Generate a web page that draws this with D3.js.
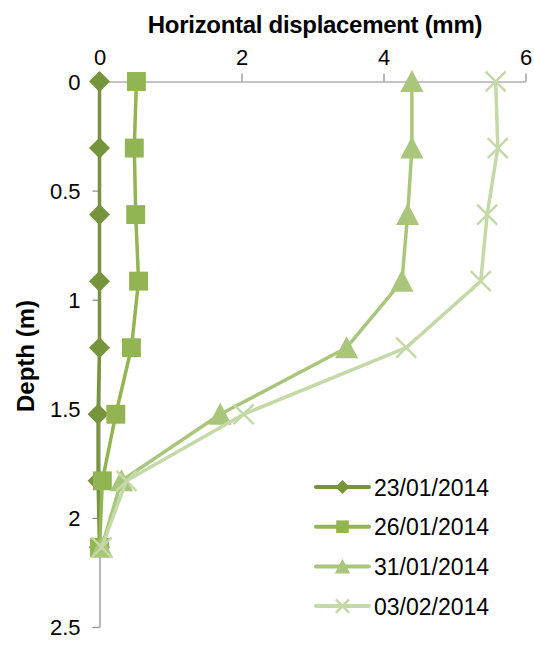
<!DOCTYPE html>
<html>
<head>
<meta charset="utf-8">
<script src="https://cdn.jsdelivr.net/npm/d3@7"></script>
<style>
  body { margin: 0; background: #fff; }
  text { font-family: "Liberation Sans", Arial, sans-serif; fill: #000; }
</style>
</head>
<body>
<div id="chart"></div>
<script>
var w = 534;
var h = 646;

// depth of each reading (m)
var depths = [0, 0.305, 0.61, 0.915, 1.22, 1.525, 1.83, 2.135];
var dates = ["23/01/2014", "26/01/2014", "31/01/2014", "03/02/2014"];
// horizontal displacement (mm) at each depth
var d230114 = [0, 0, 0, 0, 0, -0.02, -0.02, 0];
var d260114 = [0.52, 0.49, 0.51, 0.55, 0.45, 0.23, 0.04, 0];
var d310114 = [4.4, 4.4, 4.34, 4.26, 3.48, 1.7, 0.31, 0.03];
var d030214 = [5.58, 5.61, 5.46, 5.37, 4.32, 2.03, 0.38, 0.03];
var xTicks = [0, 2, 4, 6];
var yTicks = [0, 0.5, 1, 1.5, 2, 2.5];

var colors = ["#77933c", "#92b453", "#a9c67c", "#c5d8a7"];
var shapes = ["diamond", "square", "triangle", "cross"];
var values = [d230114, d260114, d310114, d030214];

var x = d3.scaleLinear().domain([0, 6]).range([99.5, 525.5]);
var y = d3.scaleLinear().domain([0, 2.5]).range([81.5, 627]);
var fmt = d3.format("~g");

var svg = d3.select("#chart").append("svg")
  .attr("width", w)
  .attr("height", h);

// axes
var xAxis = svg.append("g")
  .attr("transform", "translate(0," + y(0) + ")")
  .call(d3.axisTop(x).tickValues(xTicks).tickFormat(fmt).tickSize(8).tickSizeOuter(0).tickPadding(4));
var yAxis = svg.append("g")
  .attr("transform", "translate(" + x(0) + ",0)")
  .call(d3.axisLeft(y).tickValues(yTicks).tickFormat(fmt).tickSize(7).tickSizeOuter(0).tickPadding(12));

[xAxis, yAxis].forEach(function(a) {
  a.select(".domain").attr("stroke", "#8a8a8a").attr("stroke-width", 1.2);
  a.selectAll(".tick line").attr("stroke", "#8a8a8a").attr("stroke-width", 1.2);
  a.selectAll(".tick text")
    .attr("font-size", 22)
    .attr("font-family", "Liberation Sans, Arial, sans-serif")
    .attr("fill", "#000");
});
xAxis.selectAll(".tick text").attr("dy", "0em").attr("y", -17);
yAxis.selectAll(".tick text").attr("dy", "0.36em");

// titles
svg.append("text")
  .attr("x", 315)
  .attr("y", 33)
  .attr("text-anchor", "middle")
  .attr("font-size", 24)
  .attr("font-weight", "bold")
  .attr("letter-spacing", -0.3)
  .text("Horizontal displacement (mm)");

svg.append("text")
  .attr("transform", "translate(34,356) rotate(-90)")
  .attr("text-anchor", "middle")
  .attr("font-size", 24)
  .attr("font-weight", "bold")
  .text("Depth (m)");

function marker(sel, shape, color, s) {
  if (shape === "diamond") {
    sel.append("path").attr("d", "M0," + (-s) + "L" + s + ",0L0," + s + "L" + (-s) + ",0Z").attr("fill", color);
  } else if (shape === "square") {
    var q = s * 0.9;
    sel.append("rect").attr("x", -q).attr("y", -q).attr("width", 2 * q).attr("height", 2 * q).attr("fill", color);
  } else if (shape === "triangle") {
    sel.append("path").attr("d", "M0," + (-s * 1.1) + "L" + (s * 1.1) + "," + (s * 1.0) + "L" + (-s * 1.1) + "," + (s * 1.0) + "Z").attr("fill", color);
  } else {
    var c = s * 0.95;
    sel.append("path").attr("d", "M" + (-c) + "," + (-c) + "L" + c + "," + c + "M" + (-c) + "," + c + "L" + c + "," + (-c))
      .attr("stroke", color).attr("stroke-width", 2.5).attr("fill", "none");
  }
}

var line = d3.line()
  .x(function(d) { return x(d[0]); })
  .y(function(d) { return y(d[1]); });

values.forEach(function(vals, k) {
  var pts = vals.map(function(v, i) { return [v, depths[i]]; });
  var g = svg.append("g");
  g.append("path")
    .attr("d", line(pts))
    .attr("fill", "none")
    .attr("stroke", colors[k])
    .attr("stroke-width", 3.5)
    .attr("stroke-linejoin", "round");
  g.selectAll("g.pt")
    .data(pts)
    .enter()
    .append("g")
    .attr("class", "pt")
    .attr("transform", function(d) { return "translate(" + x(d[0]) + "," + y(d[1]) + ")"; })
    .each(function() { marker(d3.select(this), shapes[k], colors[k], 10.5); });
});

// legend
var legend = svg.append("g").attr("transform", "translate(316,487)");
dates.forEach(function(dt, k) {
  var row = legend.append("g").attr("transform", "translate(0," + (k * 39.7) + ")");
  row.append("line")
    .attr("x1", 0).attr("x2", 53)
    .attr("stroke", colors[k])
    .attr("stroke-width", 4)
    .attr("stroke-linecap", "round");
  var m = row.append("g").attr("transform", "translate(26.5,0)");
  marker(m, shapes[k], colors[k], 7);
  row.append("text")
    .attr("x", 58)
    .attr("y", 8.5)
    .attr("font-size", 23)
    .text(dt);
});
</script>
</body>
</html>
